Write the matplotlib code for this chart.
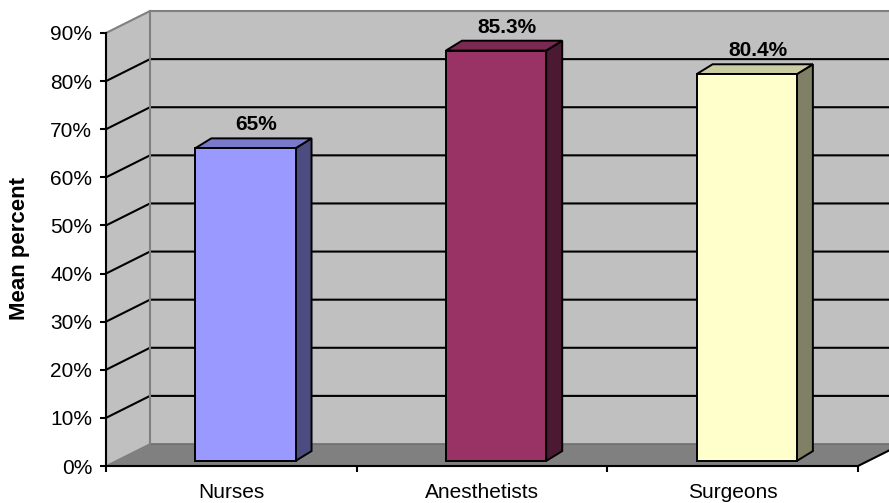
import matplotlib
matplotlib.use("Agg")
import matplotlib.pyplot as plt
import numpy as np

# ---- data ----
categories = ["Nurses", "Anesthetists", "Surgeons"]
values = [65.0, 85.3, 80.4]
value_labels = ["65%", "85.3%", "80.4%"]
y_ticks = [0, 10, 20, 30, 40, 50, 60, 70, 80, 90]
y_tick_labels = [f"{t}%" for t in y_ticks]
y_label = "Mean percent"

# ---- style ----
front_colors = ["#9999FF", "#993366", "#FFFFCC"]
top_colors = ["#7A7ACC", "#7A2952", "#CCCCA3"]
side_colors = ["#4C4C80", "#4C1933", "#808066"]
wall_color = "#C0C0C0"
floor_color = "#808080"
edge_gray = "#808080"

plt.rcParams['font.family'] = ['Liberation Sans', 'DejaVu Sans']

W, H = 889, 503
fig = plt.figure(figsize=(W / 100, H / 100), dpi=100)
L, R, B, T = 106, 858, 466, 33
ax = fig.add_axes([L / W, (H - B) / H, (R - L) / W, (B - T) / H])
ax.set_xlim(-0.5, len(categories) - 0.5)
ax.set_ylim(0, 90)

# depth offsets (data units)
Dx, Dy = 0.1755, 4.57            # wall depth
bfx, bfy = 0.056, 1.05           # bar front-plane offset
bdx, bdy = 0.064, 2.05           # bar depth
bw = 0.4                         # bar width

x0, x1 = -0.5, len(categories) - 0.5
ymax = 90
kw = dict(clip_on=False)

# back wall
ax.fill([x0 + Dx, x1 + Dx + 0.3, x1 + Dx + 0.3, x0 + Dx],
        [Dy, Dy, ymax + Dy, ymax + Dy], color=wall_color, lw=0, zorder=1, **kw)
# left side wall
ax.fill([x0, x0 + Dx, x0 + Dx, x0], [0, Dy, ymax + Dy, ymax],
        color=wall_color, lw=0, zorder=1, **kw)
# floor
ax.fill([x0, x1, x1 + Dx, x0 + Dx], [0, 0, Dy, Dy], color=floor_color,
        lw=0, zorder=1.5, **kw)
ax.plot([x0 + Dx, x1 + Dx + 0.3], [Dy, Dy], color="#6E6E6E", lw=1.2, zorder=1.6, **kw)

# gridlines on back wall and side wall
for t in y_ticks[1:-1]:
    ax.plot([x0, x0 + Dx, x1 + Dx + 0.3], [t, t + Dy, t + Dy], color="black",
            lw=1.5, zorder=2, solid_capstyle="butt", **kw)
# wall borders (gray)
ax.plot([x0, x0 + Dx, x1 + Dx + 0.3], [ymax, ymax + Dy, ymax + Dy],
        color=edge_gray, lw=1.5, zorder=2, **kw)
ax.plot([x0 + Dx, x0 + Dx], [Dy, ymax + Dy], color=edge_gray, lw=1.5, zorder=2, **kw)
ax.plot([x0, x0 + Dx], [0, Dy], color=edge_gray, lw=1.2, zorder=2, **kw)
# right floor edge
ax.plot([x1, x1 + Dx], [0, Dy], color="black", lw=1.5, zorder=3, **kw)

# bars
for i, v in enumerate(values):
    xl = i - bw / 2 + bfx
    xr = i + bw / 2 + bfx
    yb = bfy
    yt = v + bfy
    ec = dict(edgecolor="black", lw=1.4, joinstyle="miter", zorder=4, **kw)
    # side
    ax.fill([xr, xr + bdx, xr + bdx, xr], [yb, yb + bdy, yt + bdy, yt],
            facecolor=side_colors[i], **ec)
    # top
    ax.fill([xl, xr, xr + bdx, xl + bdx], [yt, yt, yt + bdy, yt + bdy],
            facecolor=top_colors[i], **ec)
    # front
    ax.fill([xl, xr, xr, xl], [yb, yb, yt, yt], facecolor=front_colors[i], **ec)
    ax.annotate(value_labels[i], xy=(i + bfx + bdx / 2, yt), xytext=(2, 13),
                textcoords="offset points", ha="center", va="baseline",
                fontsize=15, fontweight="bold", zorder=5, annotation_clip=False)

# axes
for s in ["top", "right"]:
    ax.spines[s].set_visible(False)
for s in ["left", "bottom"]:
    ax.spines[s].set_color("black")
    ax.spines[s].set_linewidth(1.5)
    ax.spines[s].set_zorder(3)
ax.patch.set_visible(False)

ax.set_yticks(y_ticks)
ax.set_yticklabels(y_tick_labels, fontsize=15)
ax.tick_params(axis="y", direction="out", length=4, width=1.5, pad=6)

ax.set_xticks(range(len(categories)))
ax.set_xticklabels(categories, fontsize=15)
ax.tick_params(axis="x", which="major", length=0, pad=12)
ax.set_xticks(np.arange(len(categories) + 1) - 0.5, minor=True)
ax.tick_params(axis="x", which="minor", direction="out", length=4, width=1.5)

fig.text(20 / W, 1 - 249 / H, y_label, rotation=90, ha="center", va="center",
         fontsize=16, fontweight="bold")

fig.savefig("out.png", dpi=100)
